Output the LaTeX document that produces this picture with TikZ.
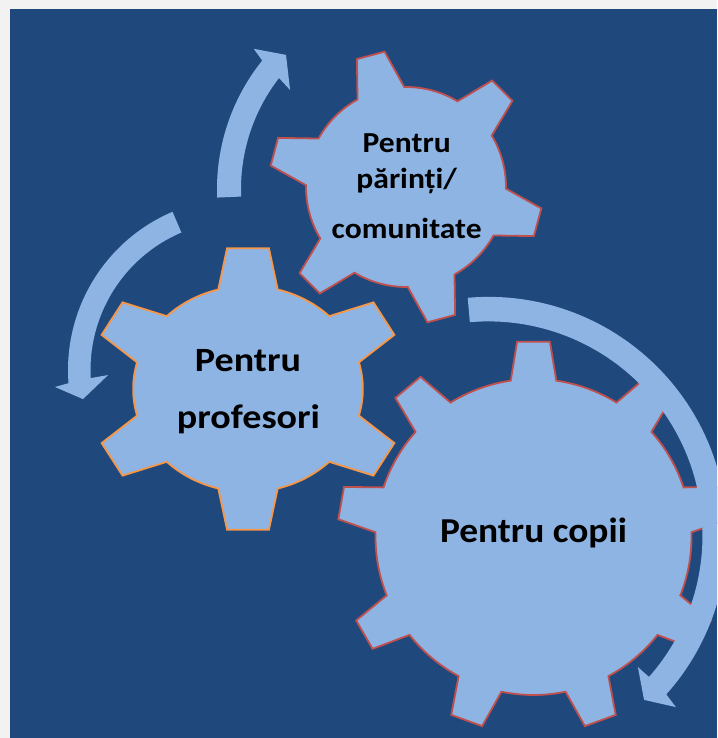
\documentclass[tikz,border=0pt]{standalone}
\usepackage{fontspec}
\setmainfont{Carlito}
\definecolor{bgblue}{HTML}{1F497D}
\definecolor{gearblue}{HTML}{8EB4E3}
\definecolor{gearred}{HTML}{C0504D}
\definecolor{gearorange}{HTML}{F79646}
\definecolor{pagegray}{HTML}{F2F2F3}
\begin{document}
\begin{tikzpicture}[x=1pt,y=1pt,
  gearbase/.style={fill=gearblue, line width=1.8pt, line join=miter},
  redgear/.style={gearbase, draw=gearred},
  orangegear/.style={gearbase, draw=gearorange},
  arrowband/.style={fill=gearblue},
  lbl/.style={text=black, anchor=base, inner sep=0pt}]
\useasboundingbox (0,0) rectangle (717,738);
\fill[pagegray] (0,0) rectangle (717,738);
\fill[bgblue] (10,0) rectangle (717,729);
\clip (10,0) rectangle (717,729);

% gear: Pentru profesori
\begin{scope}[shift={(248,349)}, xscale=1.115]
\draw[orangegear] (75:103) \foreach \k [evaluate=\k as \t using 90+60*\k] in {0,...,5} { -- ({\t-7.6}:142) -- ({\t+7.6}:142) -- ({\t+15}:103) arc[start angle={\t+15}, end angle={\t+45}, radius=103] } -- cycle;
\end{scope}

% gear: Pentru parinti/comunitate
\begin{scope}[shift={(406,551)}]
\draw[redgear] (91:100) \foreach \k [evaluate=\k as \t using 105+60*\k] in {0,...,5} { -- ({\t-6}:137) -- ({\t+6}:137) -- ({\t+14}:100) arc[start angle={\t+14}, end angle={\t+46}, radius=100] } -- cycle;
\end{scope}

% gear: Pentru copii
\begin{scope}[shift={(533.5,201)}]
\draw[redgear] (81.7:158) \foreach \k [evaluate=\k as \t using 90+40*\k] in {0,...,8} { -- ({\t-4.8}:196) -- ({\t+4.8}:196) -- ({\t+8.3}:158) arc[start angle={\t+8.3}, end angle={\t+31.7}, radius=158] } -- cycle;
\end{scope}

% arrow around top gear
\begin{scope}[shift={(422,549)}]
\fill[arrowband] (182.4:205) arc[start angle=182.4, end angle=141.2, radius=205] -- (140.2:219) -- (135.4:191) -- (143.1:165) -- (142.2:181) arc[start angle=142.2, end angle=182.4, radius=181] -- cycle;
\end{scope}

% arrow on the left
\begin{scope}[shift={(240,368)}]
\fill[arrowband] (113.1:172) arc[start angle=113.1, end angle=184.4, radius=172] -- (185.25:185.8) -- (190.5:159.7) -- (182.2:132) -- (183.1:149.5) arc[start angle=183.1, end angle=113.1, radius=149.5] -- cycle;
\end{scope}

% arrow around large gear
\begin{scope}[shift={(488.5,202.6)}]
\fill[arrowband] (95:238.5) arc[start angle=95, end angle=-41.8, radius=238.5] -- (-42.5:254.2) -- (-46.6:226.4) -- (-41.4:199.2) -- (-41.4:214) arc[start angle=-41.4, end angle=95, radius=214] -- cycle;
\end{scope}

% labels
\node[lbl, font=\bfseries\fontsize{29}{34}\selectfont] (c1) at (406.7,585.3) {\scalebox{1.09}[1]{Pentru}};
\node[lbl, font=\bfseries\fontsize{29}{34}\selectfont] (c2) at (406.7,549.7) {\scalebox{1.09}[1]{părinți/}};
\node[lbl, font=\bfseries\fontsize{29}{34}\selectfont] (c3) at (406.7,499.7) {\scalebox{1.09}[1]{comunitate}};
\node[lbl, font=\bfseries\fontsize{34}{40}\selectfont] (p1) at (248,366.3) {\scalebox{1.12}[1]{Pentru}};
\node[lbl, font=\bfseries\fontsize{34}{40}\selectfont] (p2) at (248.5,309.7) {\scalebox{1.12}[1]{profesori}};
\node[lbl, font=\bfseries\fontsize{35}{40}\selectfont] (k1) at (533.5,195) {\scalebox{1.07}[1]{Pentru copii}};
\end{tikzpicture}
\end{document}
